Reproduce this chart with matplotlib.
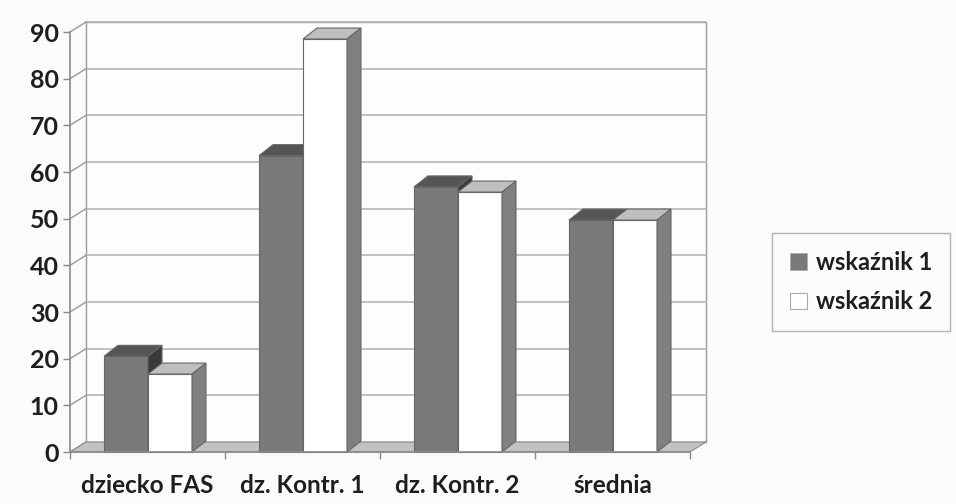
import matplotlib.pyplot as plt
from matplotlib.patches import Polygon, Rectangle, Patch

plt.rcParams['font.family'] = ['Lato', 'DejaVu Sans']
plt.rcParams['font.weight'] = 'bold'

categories = ['dziecko FAS', 'dz. Kontr. 1', 'dz. Kontr. 2', 'średnia']
wskaznik_1 = [20.5, 63.5, 56.8, 49.7]
wskaznik_2 = [16.7, 88.5, 55.7, 49.7]
series_names = ['wskaźnik 1', 'wskaźnik 2']
y_ticks = list(range(0, 100, 10))

# face colours: front, top, side
dark = ('#7a7a7c', '#555557', '#3a3a3c')
light = ('#ffffff', '#bfbfbf', '#808082')
edge = '#666666'
grid_col = '#b5b5b5'

fig = plt.figure(figsize=(9.56, 5.04), dpi=100)
fig.patch.set_facecolor('#fbfbfb')
ax = fig.add_axes([70 / 956, 52 / 504, 620 / 956, 420 / 504])
ax.set_xlim(0, 4)
ax.set_ylim(0, 90)
ax.patch.set_alpha(0)

# depth offsets (data units) for walls and bars
wdx, wdy = 16 / 155, 10 / 4.667
bdx, bdy = 14 / 155, 11 / 4.667

# back wall with gridlines
ax.add_patch(Rectangle((wdx, wdy), 4, 90, facecolor='#fdfdfd', edgecolor='#999999',
                       lw=1.0, clip_on=False, zorder=0))
for v in y_ticks[1:]:
    ax.plot([wdx, 4 + wdx], [v + wdy, v + wdy], color=grid_col, lw=1.2, clip_on=False, zorder=1)
# side wall diagonals
for v in y_ticks:
    ax.plot([0, wdx], [v, v + wdy], color='#999999', lw=1.0, clip_on=False, zorder=1)

# floor
ax.add_patch(Polygon([(0, 0), (4, 0), (4 + wdx, wdy), (wdx, wdy)], closed=True,
                     facecolor='#c2c2c2', edgecolor='#8a8a8a', lw=0.8, clip_on=False, zorder=2))

bw = 44 / 155
start = 34 / 155
for i in range(len(categories)):
    for j, (vals, cols) in enumerate([(wskaznik_1, dark), (wskaznik_2, light)]):
        x0 = i + start + j * bw
        h = vals[i]
        z = 3 + j
        ax.add_patch(Rectangle((x0, 0), bw, h, facecolor=cols[0], edgecolor=edge, lw=0.8,
                               clip_on=False, zorder=z))
        ax.add_patch(Polygon([(x0, h), (x0 + bw, h), (x0 + bw + bdx, h + bdy), (x0 + bdx, h + bdy)],
                             closed=True, facecolor=cols[1], edgecolor=edge, lw=0.8,
                             clip_on=False, zorder=z))
        ax.add_patch(Polygon([(x0 + bw, 0), (x0 + bw + bdx, bdy), (x0 + bw + bdx, h + bdy), (x0 + bw, h)],
                             closed=True, facecolor=cols[2], edgecolor=edge, lw=0.8,
                             clip_on=False, zorder=z))

for s in ['top', 'right']:
    ax.spines[s].set_visible(False)
for s in ['left', 'bottom']:
    ax.spines[s].set_color('#8a8a8a')
    ax.spines[s].set_linewidth(1.2)
    ax.spines[s].set_zorder(6)

ax.set_yticks(y_ticks)
ax.set_yticklabels([str(v) for v in y_ticks])
ax.tick_params(axis='y', direction='out', length=5, width=1.0, color='#8a8a8a', pad=3,
               labelsize=18, labelcolor='#1e1e1e')
ax.set_xticks([0, 1, 2, 3, 4])
ax.set_xticklabels([])
ax.tick_params(axis='x', which='major', direction='out', length=5, width=1.0, color='#8a8a8a')
ax.set_xticks([i + 0.5 for i in range(len(categories))], minor=True)
ax.set_xticklabels(categories, minor=True)
ax.tick_params(axis='x', which='minor', length=0, pad=16, labelsize=17.5, labelcolor='#1e1e1e')

handles = [Patch(facecolor=dark[0], edgecolor='#aaaaaa', lw=0.5),
           Patch(facecolor=light[0], edgecolor='#aaaaaa', lw=0.8)]
leg = fig.legend(handles, series_names, loc='upper left', bbox_to_anchor=(772 / 956, 1 - 233 / 504),
                 frameon=True, fancybox=False, fontsize=17, handlelength=0.72, handleheight=0.72,
                 handletextpad=0.4, labelspacing=0.7, borderpad=0.75, borderaxespad=0)
leg.get_frame().set_edgecolor('#a0a0a0')
leg.get_frame().set_facecolor('#fdfdfd')
leg.get_frame().set_linewidth(1.0)
for t in leg.get_texts():
    t.set_color('#1e1e1e')

fig.savefig('out.png', dpi=100, facecolor=fig.get_facecolor())
